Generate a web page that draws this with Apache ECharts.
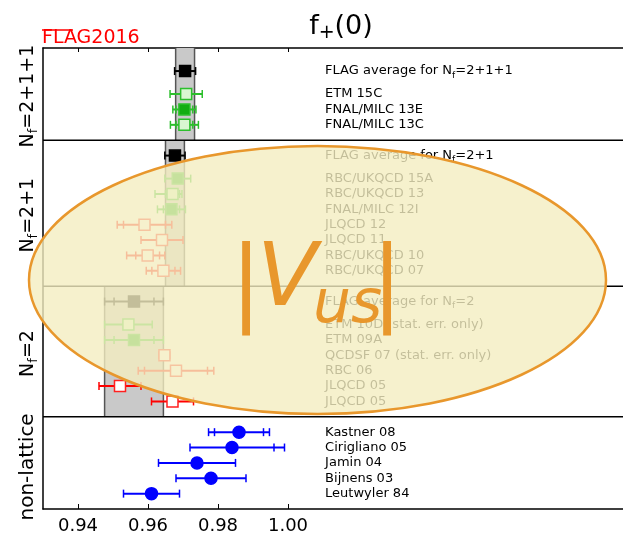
<!DOCTYPE html>
<html><head><meta charset="utf-8">
<script src="https://cdn.jsdelivr.net/npm/echarts@6/dist/echarts.min.js"></script>
<style>html,body{margin:0;padding:0;background:#fff}#c{width:623px;height:536px}</style>
</head><body><div id="c"></div>
<script>
// ---- data ----
const labels = ['FLAG average for N_f=2+1+1','ETM 15C','FNAL/MILC 13E','FNAL/MILC 13C',
  'FLAG average for N_f=2+1','RBC/UKQCD 15A','RBC/UKQCD 13','FNAL/MILC 12I','JLQCD 12','JLQCD 11','RBC/UKQCD 10','RBC/UKQCD 07',
  'FLAG average for N_f=2','ETM 10D (stat. err. only)','ETM 09A','QCDSF 07 (stat. err. only)','RBC 06','JLQCD 05','JLQCD 05',
  'Kastner 08','Cirigliano 05','Jamin 04','Bijnens 03','Leutwyler 84'];
const rowPos = [1.5,3,4,5, 7,8.5,9.5,10.5,11.5,12.5,13.5,14.5, 16.5,18,19,20,21,22,23, 25,26,27,28,29];
const values = [0.9706,0.9709,0.9704,0.9704, 0.9677,0.9685,0.9670,0.9667,0.9590,0.9640,0.9599,0.9644,
  0.9560,0.9544,0.9560,0.9647,0.9680,0.9520,0.9670, 0.9860,0.9840,0.9740,0.9780,0.9610];
const statErr = [0.0027,0.0043,0.0024,0.0024, 0.0027,0.0034,0.0020,0.0023,0.0060,0.0060,0.0034,0.0033,
  0.0057,0.0068,0.0057,0.0015,0.0090,0.0060,0.0060, 0.0070,0.0120,0.0110,0.0100,0.0080];
const errLo = [0.0030,0.0046,0.0033,0.0040, 0.0029,0.0037,0.0050,0.0040,0.0078,0.0060,0.0060,0.0049,
  0.0084,0.0068,0.0084,0.0015,0.0108,0.0060,0.0060, 0.0087,0.0120,0.0110,0.0100,0.0080];
const errHi = [0.0030,0.0046,0.0033,0.0040, 0.0029,0.0037,0.0027,0.0040,0.0078,0.0060,0.0049,0.0049,
  0.0084,0.0068,0.0084,0.0015,0.0108,0.0060,0.0060, 0.0087,0.0150,0.0110,0.0100,0.0080];
const kinds = ['avg','open','fill','open', 'avg','fill','open','fill','red','red','red','red',
  'avg','open','fill','red','red','red','red', 'blue','blue','blue','blue','blue'];
const panelBounds = [[0,6],[6,15.5],[15.5,24],[24,30]];
const panelNames = ['N_f=2+1+1','N_f=2+1','N_f=2','non-lattice'];
const dividers = [6,15.5,24];
const bandCenter = [0.9706,0.9677,0.9560];
const bandErr = [0.0027,0.0027,0.0084];
const xTicks = [0.94,0.96,0.98,1.00];
const labelX = 1.0106;

// ---- styles ----
const FONT = 'DejaVu Sans';
const GREEN = '#12ad12';
const styleOf = {
  avg:  {symbol:'rect', size:11, fill:'#000000', edge:'#000000', bar:'#000000'},
  fill: {symbol:'rect', size:11, fill:GREEN, edge:'#2cbf2c', bar:'#2cbf2c'},
  open: {symbol:'rect', size:11, fill:'#d9f7d2', edge:'#2cbf2c', bar:'#2cbf2c'},
  red:  {symbol:'rect', size:11, fill:'#ffffff', edge:'#ff2020', bar:'#ff0000'},
  blue: {symbol:'circle', size:12, fill:'#0000ff', edge:'#0000ff', bar:'#0000ff'}
};

const chart = echarts.init(document.getElementById('c'), null, {renderer:'canvas'});

const errData = values.map((v,i)=>[v, rowPos[i], v-errLo[i], v+errHi[i], v-statErr[i], v+statErr[i]]);
const markerData = values.map((v,i)=>{
  const s = styleOf[kinds[i]];
  return {value:[v,rowPos[i]], symbol:s.symbol, symbolSize:s.size,
    itemStyle:{color:s.fill, borderColor:s.edge, borderWidth:1.5, opacity:1}};
});
const labelData = labels.map((t,i)=>[labelX, rowPos[i]]);
const bandData = bandCenter.map((c,i)=>[c-bandErr[i], c+bandErr[i], panelBounds[i][0], panelBounds[i][1]]);

function richText(t, size, subSize){
  const m = t.match(/^(.*N)_f(.*)$/);
  if (!m) return {text:t, rich:null};
  return {text:'{t|'+m[1]+'}{s|f}{t|'+m[2]+'}', rich:{
    t:{fontSize:size, fontFamily:FONT, lineHeight:size+5, verticalAlign:'middle'},
    s:{fontSize:subSize, fontFamily:FONT, lineHeight:subSize, verticalAlign:'bottom'}
  }};
}

const option = {
  animation:false,
  backgroundColor:'#ffffff',
  grid:{left:43, top:48, width:595, height:461, containLabel:false, outerBoundsMode:'none'},
  xAxis:[
    {type:'value', min:0.93, max:1.10, position:'bottom',
     axisLine:{show:true, onZero:false, lineStyle:{color:'#000', width:1.5}},
     axisTick:{show:true, inside:true, length:5, customValues:xTicks, lineStyle:{color:'#000', width:1}},
     axisLabel:{show:true, customValues:xTicks, formatter:v=>v.toFixed(2), color:'#000', fontSize:18, fontFamily:FONT, margin:8},
     splitLine:{show:false}},
    {type:'value', min:0.93, max:1.10, position:'top',
     axisLine:{show:true, onZero:false, lineStyle:{color:'#000', width:1.5}},
     axisTick:{show:true, inside:true, length:4, customValues:xTicks, lineStyle:{color:'#000', width:1}},
     axisLabel:{show:false}, splitLine:{show:false}}
  ],
  yAxis:{type:'value', min:0, max:30, inverse:true,
    axisLine:{show:true, onZero:false, lineStyle:{color:'#000', width:1.5}},
    axisTick:{show:false}, axisLabel:{show:false}, splitLine:{show:false}},
  series:[
    {type:'custom', name:'bands', z:1, data:bandData, silent:true,
     renderItem:(p,api)=>{
       const a = api.coord([api.value(0), api.value(2)]);
       const b = api.coord([api.value(1), api.value(3)]);
       return {type:'group', children:[
         {type:'rect', shape:{x:a[0], y:a[1], width:b[0]-a[0], height:b[1]-a[1]}, style:{fill:'#c9c9c9'}},
         {type:'line', shape:{x1:a[0],y1:a[1],x2:a[0],y2:b[1]}, style:{stroke:'#555', lineWidth:1.5}},
         {type:'line', shape:{x1:b[0],y1:a[1],x2:b[0],y2:b[1]}, style:{stroke:'#555', lineWidth:1.5}}
       ]};
     }},
    {type:'custom', name:'dividers', z:2, data:dividers.map(d=>[d]), silent:true,
     renderItem:(p,api)=>{
       const a = api.coord([0.93, api.value(0)]);
       const b = api.coord([1.10, api.value(0)]);
       return {type:'line', shape:{x1:a[0],y1:a[1],x2:b[0],y2:b[1]}, style:{stroke:'#000', lineWidth:1.5}};
     }},
    {type:'custom', name:'errors', z:3, data:errData, silent:true,
     renderItem:(p,api)=>{
       const i = p.dataIndex, y = api.value(1);
       const col = styleOf[kinds[i]].bar;
       const lo = api.coord([api.value(2), y]), hi = api.coord([api.value(3), y]);
       const sl = api.coord([api.value(4), y]), sh = api.coord([api.value(5), y]);
       const h = 4;
       const cap = (q)=>({type:'line', shape:{x1:q[0],y1:q[1]-h,x2:q[0],y2:q[1]+h}, style:{stroke:col, lineWidth:1.5}});
       const ch = [{type:'line', shape:{x1:lo[0],y1:lo[1],x2:hi[0],y2:hi[1]}, style:{stroke:col, lineWidth:2}}, cap(lo), cap(hi)];
       if (Math.abs(sl[0]-lo[0])>1.5) ch.push(cap(sl));
       if (Math.abs(sh[0]-hi[0])>1.5) ch.push(cap(sh));
       return {type:'group', children:ch};
     }},
    {type:'scatter', name:'points', z:4, data:markerData, silent:true},
    {type:'custom', name:'labels', z:4, data:labelData, silent:true,
     renderItem:(p,api)=>{
       const q = api.coord([api.value(0), api.value(1)]);
       const r = richText(labels[p.dataIndex], 13, 9);
       const st = {text:r.text, fill:'#000', fontSize:13, fontFamily:FONT, align:'left', verticalAlign:'middle'};
       if (r.rich) st.rich = r.rich;
       return {type:'text', x:q[0], y:q[1], style:st};
     }}
  ]
};
chart.setOption(option);

// ---- decorations ----
const ORANGE = '#e8972c';
const gfx = [];
gfx.push({type:'ellipse', z:100, shape:{cx:317.5, cy:280, rx:288.5, ry:134},
  style:{fill:'rgba(244,238,193,0.8)', stroke:ORANGE, lineWidth:2.5}});
gfx.push({type:'text', z:110, x:246, y:289, style:{text:'|', fill:ORANGE, fontSize:94, fontFamily:FONT, align:'center', verticalAlign:'middle'}});
gfx.push({type:'text', z:110, x:257, y:282, style:{text:'V', fill:ORANGE, fontSize:88, fontStyle:'italic', fontFamily:FONT, align:'left', verticalAlign:'middle'}});
gfx.push({type:'text', z:110, x:313, y:306, style:{text:'us', fill:ORANGE, fontSize:60, fontStyle:'italic', fontFamily:FONT, align:'left', verticalAlign:'middle'}});
gfx.push({type:'text', z:110, x:387, y:289, style:{text:'|', fill:ORANGE, fontSize:94, fontFamily:FONT, align:'center', verticalAlign:'middle'}});
panelNames.forEach((n,i)=>{
  const top = chart.convertToPixel({yAxisIndex:0}, panelBounds[i][0]);
  const bot = chart.convertToPixel({yAxisIndex:0}, panelBounds[i][1]);
  const fs = i===3 ? 20 : 19;
  const r = richText(n, fs, 13);
  const st = {text:r.text, fill:'#000', fontSize:fs, fontFamily:FONT, align:'center', verticalAlign:'middle'};
  if (r.rich) st.rich = r.rich;
  gfx.push({type:'text', z:120, x:28, y:(top+bot)/2 + (i===3?4:2), rotation:Math.PI/2, style:st});
});
gfx.push({type:'text', z:120, x:341, y:27, style:{text:'{a|f}{b|+}{a|(0)}', align:'center', verticalAlign:'middle',
  rich:{a:{fontSize:27, fontFamily:FONT, fill:'#000', lineHeight:31, verticalAlign:'middle'},
        b:{fontSize:19, fontFamily:FONT, fill:'#000', lineHeight:19, verticalAlign:'bottom'}}}});
gfx.push({type:'text', z:120, x:42, y:38, style:{text:'FLAG2016', fill:'#ff0000', fontSize:19, fontFamily:FONT, align:'left', verticalAlign:'middle'}});
gfx.push({type:'line', z:120, shape:{x1:42, y1:30, x2:73, y2:30}, style:{stroke:'#ff0000', lineWidth:1.5}});
chart.setOption({graphic:{elements:gfx}});
</script>
</body></html>
